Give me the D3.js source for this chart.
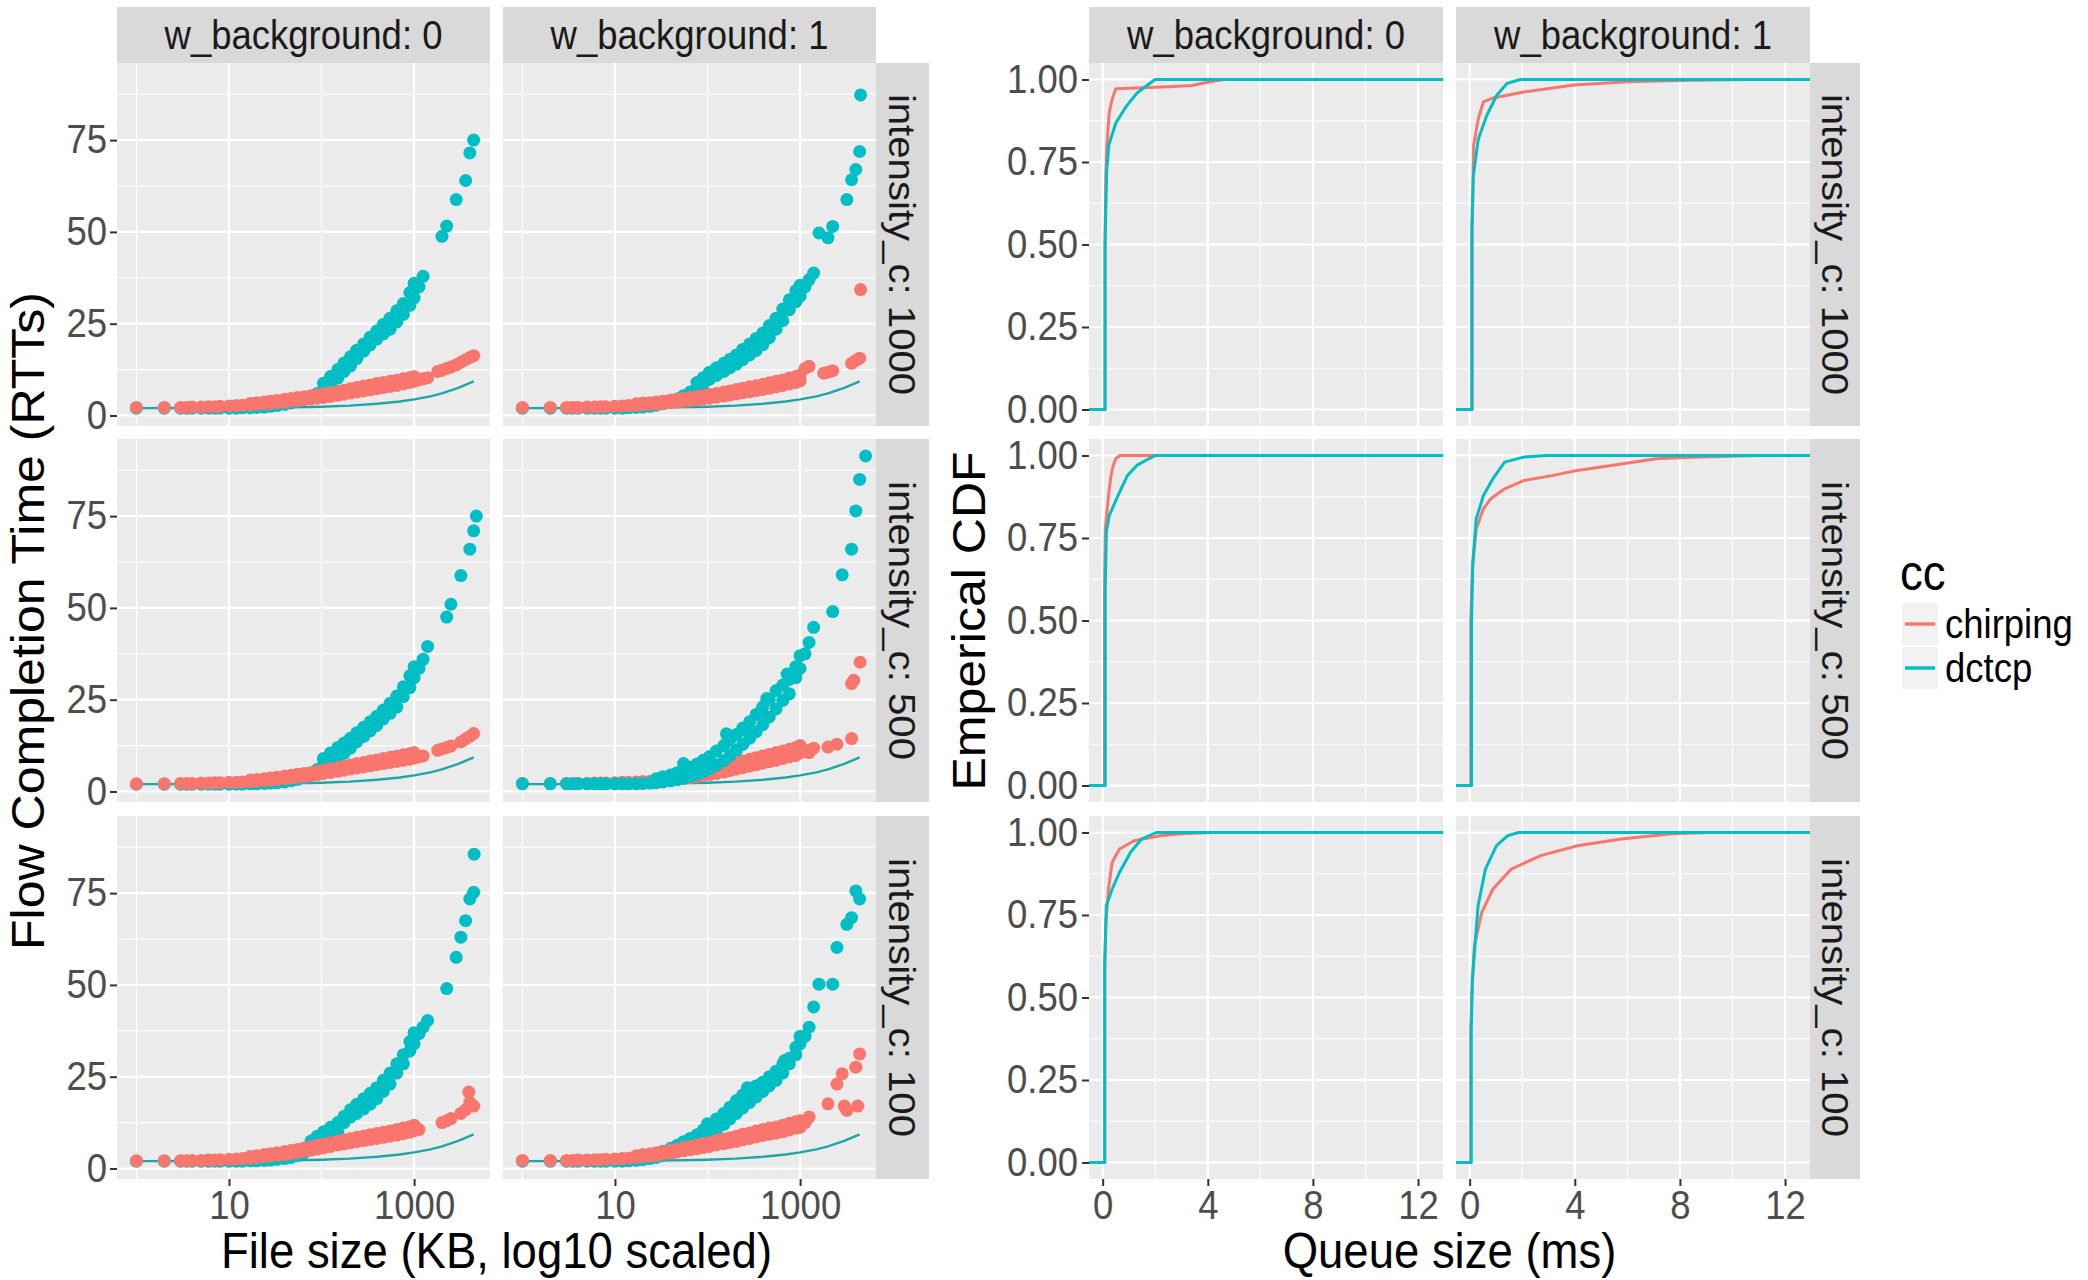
<!DOCTYPE html>
<html>
<head>
<meta charset="utf-8">
<script src="https://cdn.jsdelivr.net/npm/d3@7"></script>
<style>
    body { margin: 0; background: #fff; }
    text { font-family: "Liberation Sans", Arial, sans-serif; }
</style>
</head>
<body>
<script>
"use strict";

// ---- categories and ticks ----
var backgrounds = ["0", "1"];
var intensities = ["1000", "500", "100"];
var ccNames = ["chirping", "dctcp"];

var fctTicks = [0, 25, 50, 75];
var fctMinorTicks = [12.5, 37.5, 62.5, 87.5];
var sizeTicks = [10, 1000];
var sizeMinorTicks = [1, 100];
var queueTicks = [0, 4, 8, 12];
var queueMinorTicks = [2, 6, 10];
var cdfTicks = [0, 0.25, 0.5, 0.75, 1];
var cdfMinorTicks = [0.125, 0.375, 0.625, 0.875];

// ---- flow completion time (RTTs) per file size (KB) ----
var fileSizesKB = [1, 2, 3, 3.5, 4, 5, 6, 7, 8, 10,
    12, 14, 17, 20, 24, 28, 33, 40, 47, 55,
    65, 77, 90, 105, 125, 150, 175, 205, 240, 285,
    335, 395, 465, 550, 650, 765, 900, 1000, 1130, 1250,
    1400, 1600, 1800, 2000, 2250, 2500, 2850, 3200, 3600, 4000,
    4400];

var chirping1000bg0 = [2.2, 2.2, 2.2, 2.2, 2.3, 2.3, 2.4, 2.4, 2.5, 2.6,
    2.7, 2.8, 2.9, 3.0, 3.2, 3.3, 3.5, 3.7, 3.9, 4.1,
    4.3, 4.5, 4.7, 4.9, 5.2, 5.5, 5.8, 6.1, 6.4, 6.7,
    7.0, 7.3, 7.6, 7.9, 8.2, 8.6, 9.0, 9.3, 9.7, 10.0,
    10.3, null, 12.0, 12.3, 12.8, 13.2, 13.8, 14.5, 15.2, 15.8,
    16.3];
var dctcp1000bg0 = [2.0, 2.0, 2.0, 2.0, 2.0, 2.0, 2.0, 2.0, 2.0, 2.0,
    2.0, 2.1, 2.1, 2.2, 2.3, 2.5, 2.7, 3.0, 3.4, 3.9,
    4.5, 5.2, 6.0, 7.0, 8.5, 10.2, 12.0, 13.5, 15.5, 17.5,
    19.2, 20.8, 22.2, 23.5, 25.5, 27.5, 30.0, 32.0, 35.0, 37.9,
    null, null, null, 48.8, 51.6, null, 58.8, null, 64.0, 71.5,
    75.0];
var chirping1000bg1 = [2.2, 2.2, 2.2, 2.2, 2.2, 2.3, 2.3, 2.4, 2.4, 2.5,
    2.6, 2.7, 2.8, 2.9, 3.0, 3.1, 3.3, 3.5, 3.7, 3.9,
    4.1, 4.3, 4.5, 4.7, 5.0, 5.3, 5.6, 5.9, 6.2, 6.5,
    6.8, 7.1, 7.4, 7.8, 8.2, 8.6, 9.0, 9.4, 12.8, 13.4,
    null, null, 11.5, 11.8, 12.2, null, null, null, 14.2, 15.0,
    15.6];
var dctcp1000bg1 = [2.0, 2.0, 2.0, 2.0, 2.0, 2.0, 2.0, 2.0, 2.0, 2.0,
    2.0, 2.1, 2.2, 2.3, 2.5, 2.8, 3.2, 3.8, 4.5, 5.4,
    6.4, 7.4, 8.6, 9.9, 10.9, 12.0, 13.0, 14.0, 15.2, 16.5,
    17.7, 19.3, 21.2, 23.5, 25.8, 28.8, 31.0, 32.5, 35.0, 37.0,
    38.8, 49.7, null, 48.4, 51.5, null, null, 58.8, 64.2, 67.0,
    71.9];
var chirping500bg0 = [2.1, 2.1, 2.2, 2.2, 2.2, 2.3, 2.3, 2.4, 2.4, 2.5,
    2.5, 2.6, 2.7, 2.8, 3.0, 3.1, 3.3, 3.5, 3.7, 3.9,
    4.1, 4.3, 4.6, 4.9, 5.2, 5.5, 5.8, 6.1, 6.4, 6.7,
    7.0, 7.3, 7.6, 7.9, 8.2, 8.5, 8.8, 9.1, 9.4, 9.7,
    null, null, 11.2, 11.6, 12.0, 12.4, null, 13.5, 14.3, 15.0,
    15.8];
var dctcp500bg0 = [2.0, 2.0, 2.0, 2.0, 2.0, 2.0, 2.0, 2.0, 2.0, 2.0,
    2.0, 2.0, 2.1, 2.1, 2.2, 2.3, 2.4, 2.6, 2.9, 3.3,
    3.8, 4.5, 6.0, 7.5, 8.5, 9.5, 10.4, 11.8, 13.5, 15.0,
    16.5, 18.0, 19.8, 21.3, 23.0, 25.8, 28.3, 31.0, 33.5, 36.0,
    39.5, null, null, null, 47.5, 51.0, null, 58.8, null, 66.0,
    71.0];
var chirping500bg1 = [2.2, 2.2, 2.2, 2.2, 2.2, 2.2, 2.3, 2.3, 2.3, 2.4,
    2.5, 2.5, 2.6, 2.7, 2.8, 2.9, 3.0, 3.2, 3.4, 3.6,
    3.8, 4.1, 4.4, 4.6, 4.9, 5.3, 5.7, 6.1, 6.5, 6.9,
    7.3, 7.7, 8.1, 8.5, 9.0, 9.4, 9.8, 10.5, 11.2, 10.6,
    11.8, null, null, 12.1, null, 12.9, null, null, 14.4, null,
    null];
var dctcp500bg1 = [2.1, 2.1, 2.1, 2.1, 2.1, 2.1, 2.1, 2.1, 2.1, 2.1,
    2.1, 2.1, 2.1, 2.2, 2.3, 2.4, 2.6, 2.9, 3.2, 3.6,
    4.1, 4.7, 5.4, 6.2, 7.2, 8.4, 9.8, 11.2, 12.8, 14.5,
    16.3, 18.2, 20.3, 22.5, 24.8, 26.6, 31.0, 33.5, 37.5, 40.6,
    44.7, null, null, null, 49.0, null, 59.0, null, 66.0, 76.4,
    85.0];
var chirping100bg0 = [2.1, 2.1, 2.1, 2.1, 2.2, 2.2, 2.3, 2.3, 2.4, 2.5,
    2.6, 2.7, 2.8, 3.0, 3.2, 3.4, 3.6, 3.8, 4.1, 4.4,
    4.7, 5.0, 5.3, 5.6, 6.0, 6.4, 6.7, 7.0, 7.3, 7.6,
    7.9, 8.2, 8.5, 8.8, 9.1, 9.5, 9.9, 10.3, 10.6, null,
    null, null, null, 12.5, 13.0, 13.6, null, 15.0, 16.0, 18.0,
    17.0];
var dctcp100bg0 = [2.0, 2.0, 2.0, 2.0, 2.0, 2.0, 2.0, 2.0, 2.0, 2.0,
    2.0, 2.0, 2.1, 2.1, 2.2, 2.3, 2.5, 2.7, 3.0, 3.5,
    4.3, 5.5, 7.0, 8.0, 9.0, 10.0, 12.5, 14.0, 15.0, 16.2,
    17.5, 19.0, 21.0, 23.0, 26.0, 28.5, 32.0, 34.0, 36.7, 38.5,
    40.3, null, null, null, 49.0, null, 57.5, 63.0, 67.5, 73.4,
    75.2];
var chirping100bg1 = [2.2, 2.2, 2.2, 2.2, 2.3, 2.3, 2.4, 2.4, 2.5, 2.6,
    2.7, 2.8, 3.0, 3.2, 3.4, 3.6, 3.9, 4.2, 4.5, 4.8,
    5.1, 5.4, 5.7, 6.0, 6.4, 6.8, 7.1, 7.4, 7.8, 8.2,
    8.6, 9.0, 9.3, 9.6, 10.0, 10.5, 11.0, 11.2, 12.5, 14.0,
    null, null, null, 17.6, null, 23.0, 25.8, 15.8, null, 27.6,
    31.2];
var dctcp100bg1 = [2.0, 2.0, 2.0, 2.0, 2.0, 2.0, 2.0, 2.0, 2.0, 2.0,
    2.0, 2.1, 2.2, 2.4, 2.7, 3.0, 3.5, 4.0, 4.6, 5.3,
    6.0, 6.8, 7.8, 9.0, 10.5, 12.0, 13.5, 15.0, 16.5, 18.0,
    19.5, 21.0, 22.5, 24.0, 26.0, 28.5, 31.0, 34.0, 36.0, 38.5,
    44.0, 50.2, null, null, 50.2, 60.2, null, 66.5, 68.3, 75.6,
    73.4];

// upper edge of the thick part of each band (same flows, slower runs)
var spreadSizesKB = [17, 20, 24, 28, 33, 40, 47, 55, 65, 77,
    90, 105, 125, 150, 175, 205, 240, 285, 335, 395,
    465, 550, 650, 765, 900, 1000];
var spreadChirping1000bg0 = [3.3, 3.5, 3.7, 3.9, 4.1, 4.4, 4.6, 4.9, 5.1, 5.4,
    5.6, 5.9, 6.2, 6.6, 6.9, 7.3, 7.6, 8.0, 8.3, 8.7,
    9.0, 9.3, 9.6, 10.0, 10.3, 10.6];
var spreadDctcp1000bg0 = [null, null, null, null, null, null, null, null, null, null,
    null, 8.8, 10.6, 12.5, 14.3, 16.0, 17.8, 19.5, 21.3, 23.0,
    24.8, 26.5, 28.5, 30.5, 33.5, 36.0];
var spreadChirping1000bg1 = [3.2, 3.4, 3.5, 3.7, 3.9, 4.2, 4.4, 4.7, 4.9, 5.2,
    5.4, 5.7, 6.0, 6.4, 6.7, 7.1, 7.4, 7.8, 8.1, 8.5,
    8.9, 9.3, 9.7, 10.2, 10.6, 11.0];
var spreadDctcp1000bg1 = [null, null, null, null, null, null, null, null, null, 9.0,
    10.3, 11.8, 13.0, 14.2, 15.3, 16.5, 18.0, 19.5, 21.0, 22.5,
    24.5, 26.5, 29.0, 31.5, 34.0, 35.5];
var spreadChirping500bg0 = [3.1, 3.3, 3.5, 3.7, 3.9, 4.2, 4.4, 4.7, 4.9, 5.2,
    5.5, 5.8, 6.2, 6.5, 6.9, 7.2, 7.6, 7.9, 8.3, 8.6,
    9.0, 9.3, 9.6, 10.0, 10.3, 10.6];
var spreadDctcp500bg0 = [null, null, null, null, null, null, null, null, null, null,
    null, 9.0, 10.5, 12.0, 13.2, 14.5, 16.0, 17.5, 19.0, 20.5,
    22.2, 24.0, 26.0, 28.5, 31.5, 34.0];
var spreadChirping500bg1 = [null, null, null, null, null, null, null, null, null, null,
    null, 5.8, 6.3, 6.8, 7.3, 7.8, 8.3, 8.8, 9.2, 9.7,
    10.1, 10.6, 11.0, 11.5, 12.0, 12.5];
var spreadDctcp500bg1 = [null, null, null, 3.5, 4.0, 4.5, 5.1, 5.8, 6.6, 7.5,
    8.5, 9.5, 11.0, 12.5, 14.0, 15.5, 17.3, 19.0, 21.0, 23.0,
    25.0, 27.5, 29.0, 30.5, 34.0, 37.0];
var spreadChirping100bg0 = [3.3, 3.5, 3.8, 4.0, 4.3, 4.6, 4.9, 5.2, 5.6, 5.9,
    6.3, 6.6, 7.0, 7.4, 7.8, 8.1, 8.5, 8.8, 9.2, 9.5,
    9.9, 10.2, 10.6, 11.0, 11.4, 11.8];
var spreadDctcp100bg0 = [null, null, null, null, null, null, null, null, null, 7.5,
    8.8, 10.0, 11.2, 12.5, 14.2, 16.0, 17.5, 19.0, 20.5, 22.0,
    24.0, 26.0, 28.5, 31.0, 34.5, 37.0];
var spreadChirping100bg1 = [3.5, 3.8, 4.0, 4.3, 4.6, 5.0, 5.3, 5.7, 6.0, 6.4,
    6.8, 7.1, 7.6, 8.0, 8.4, 8.8, 9.3, 9.7, 10.2, 10.6,
    11.0, 11.3, 11.8, 12.3, 12.7, 13.0];
var spreadDctcp100bg1 = [null, 3.0, 3.5, 4.0, 4.7, 5.5, 6.3, 7.3, 8.2, 9.2,
    10.5, 12.0, 13.5, 15.0, 16.7, 18.5, 20.0, 21.5, 22.5, 23.5,
    25.0, 26.5, 28.5, 30.0, 33.0, 36.0];

// scattered flows off the main band: [intensity, background, cc, size KB, FCT]
var extraPoints = [
    ["1000", "0", "dctcp", 210, 14.4],
    ["1000", "1", "dctcp", 4500, 87.3],
    ["1000", "1", "chirping", 4500, 34.3],
    ["500", "0", "dctcp", 4700, 75.0],
    ["500", "1", "dctcp", 55, 7.6],
    ["500", "1", "dctcp", 160, 15.7],
    ["500", "1", "dctcp", 263, 16.6],
    ["500", "1", "dctcp", 372, 21.6],
    ["500", "1", "dctcp", 436, 25.3],
    ["500", "1", "dctcp", 724, 32.0],
    ["500", "1", "dctcp", 5100, 91.4],
    ["500", "1", "chirping", 3600, 29.4],
    ["500", "1", "chirping", 3800, 30.3],
    ["500", "1", "chirping", 4450, 35.2],
    ["100", "0", "dctcp", 4450, 85.6],
    ["100", "0", "chirping", 3900, 20.8],
    ["100", "1", "dctcp", 100, 12.2],
    ["100", "1", "dctcp", 270, 22.0],
    ["100", "1", "dctcp", 680, 29.4],
    ["100", "1", "chirping", 3000, 17.0],
    ["100", "1", "chirping", 4200, 17.0]
];

// panels where the dctcp points were plotted last
var dctcpOnTop = [["500", "1"]];

// reference curve drawn in every FCT panel
var idealSizesKB = [1, 10, 30, 100, 200, 400, 700, 1000, 1500, 2000, 3000, 4400];
var idealFct = [2.0, 2.05, 2.15, 2.4, 2.7, 3.2, 3.8, 4.4, 5.2, 6.0, 7.5, 9.3];

// ---- empirical CDF of queue size (ms): [ms, cdf] ----
var cdfChirping1000bg0 = [[0.09, 0], [0.09, 0.5], [0.12, 0.7], [0.16, 0.8], [0.25, 0.9], [0.36, 0.94],
    [0.5, 0.972], [1.5, 0.975], [2.5, 0.978], [3.4, 0.982], [3.9, 0.99], [4.6, 1]];
var cdfDctcp1000bg0 = [[0.09, 0], [0.09, 0.5], [0.15, 0.72], [0.23, 0.8], [0.5, 0.868], [0.91, 0.92],
    [1.32, 0.96], [1.73, 0.985], [2.0, 1]];
var cdfChirping1000bg1 = [[0.1, 0], [0.1, 0.55], [0.15, 0.8], [0.33, 0.881], [0.52, 0.932], [0.9, 0.944],
    [2.05, 0.962], [3.96, 0.983], [6.0, 0.993], [8.0, 0.997], [10.5, 1]];
var cdfDctcp1000bg1 = [[0.08, 0], [0.08, 0.55], [0.14, 0.708], [0.33, 0.82], [0.65, 0.891], [1.03, 0.952],
    [1.42, 0.988], [1.92, 1]];
var cdfChirping500bg0 = [[0.07, 0], [0.07, 0.6], [0.1, 0.777], [0.22, 0.878], [0.32, 0.94], [0.4, 0.97],
    [0.5, 0.99], [0.66, 1]];
var cdfDctcp500bg0 = [[0.1, 0], [0.1, 0.6], [0.14, 0.768], [0.25, 0.818], [0.58, 0.878], [0.94, 0.939],
    [1.3, 0.97], [1.75, 0.99], [2.0, 1]];
var cdfChirping500bg1 = [[0.04, 0], [0.04, 0.5], [0.1, 0.655], [0.25, 0.777], [0.52, 0.838], [0.79, 0.868],
    [1.33, 0.899], [2.05, 0.924], [3.13, 0.939], [4.03, 0.954], [5.84, 0.975], [7.1, 0.99], [8.5, 0.995], [11.0, 1]];
var cdfDctcp500bg1 = [[0.07, 0], [0.07, 0.5], [0.12, 0.676], [0.25, 0.808], [0.52, 0.878], [0.88, 0.929],
    [1.33, 0.98], [2.05, 0.995], [2.9, 1]];
var cdfChirping100bg0 = [[0.08, 0], [0.08, 0.6], [0.12, 0.727], [0.22, 0.828], [0.36, 0.91], [0.64, 0.95],
    [1.2, 0.975], [2.18, 0.99], [3.0, 0.996], [4.1, 1]];
var cdfDctcp100bg0 = [[0.08, 0], [0.08, 0.6], [0.14, 0.778], [0.36, 0.828], [0.64, 0.879], [1.06, 0.94],
    [1.48, 0.98], [2.04, 1]];
var cdfChirping100bg1 = [[0.04, 0], [0.04, 0.4], [0.08, 0.504], [0.18, 0.656], [0.46, 0.758], [0.88, 0.828],
    [1.58, 0.889], [2.7, 0.93], [4.1, 0.96], [5.77, 0.98], [7.7, 0.996], [9.1, 1]];
var cdfDctcp100bg1 = [[0.06, 0], [0.06, 0.4], [0.1, 0.555], [0.32, 0.778], [0.6, 0.889], [1.02, 0.96],
    [1.44, 0.99], [1.86, 1]];

// lookup tables built from the arrays above
var fctTable = {
    chirping: {"1000": [chirping1000bg0, chirping1000bg1], "500": [chirping500bg0, chirping500bg1],
               "100": [chirping100bg0, chirping100bg1]},
    dctcp: {"1000": [dctcp1000bg0, dctcp1000bg1], "500": [dctcp500bg0, dctcp500bg1],
            "100": [dctcp100bg0, dctcp100bg1]}
};
var spreadTable = {
    chirping: {"1000": [spreadChirping1000bg0, spreadChirping1000bg1],
               "500": [spreadChirping500bg0, spreadChirping500bg1],
               "100": [spreadChirping100bg0, spreadChirping100bg1]},
    dctcp: {"1000": [spreadDctcp1000bg0, spreadDctcp1000bg1],
            "500": [spreadDctcp500bg0, spreadDctcp500bg1],
            "100": [spreadDctcp100bg0, spreadDctcp100bg1]}
};
var cdfTable = {
    chirping: {"1000": [cdfChirping1000bg0, cdfChirping1000bg1], "500": [cdfChirping500bg0, cdfChirping500bg1],
               "100": [cdfChirping100bg0, cdfChirping100bg1]},
    dctcp: {"1000": [cdfDctcp1000bg0, cdfDctcp1000bg1], "500": [cdfDctcp500bg0, cdfDctcp500bg1],
            "100": [cdfDctcp100bg0, cdfDctcp100bg1]}
};

// ---- look ----
var colors = {chirping: "#F8766D", dctcp: "#00BFC4"},
    idealColor = "#1FA5A8",
    panelFill = "#EBEBEB",
    stripFill = "#D9D9D9",
    smallFont = 36.5,
    bigFont = 45.5;

// ---- layout ----
var rowTop = [63, 439, 816],
    panelH = 363,
    stripTop = 7,
    fctLeft = [117, 503], fctW = 373, fctStripW = 53,
    cdfLeft = [1089, 1456], cdfW = 354, cdfStripW = 50;

var svg = d3.select("body").append("svg")
    .attr("width", 2088)
    .attr("height", 1280)
    .style("background", "#fff");

var xSize = d3.scaleLog().domain([0.617, 6607]).range([0, fctW]),
    yFct = d3.scaleLinear().domain([-2.86, 96.0]).range([panelH, 0]),
    xQueue = d3.scaleLinear().domain([-0.52, 12.95]).range([0, cdfW]),
    yCdf = d3.scaleLinear().domain([-0.05, 1.05]).range([panelH, 0]);

// Text in the picture is a little taller than wide, so stretch it vertically.
function label(parent, x, y, str, size, fill, anchor, rotate) {
    var tf = "translate(" + x + "," + y + ") scale(1,1.1)";
    if (rotate) { tf += " rotate(" + rotate + ")"; }
    return parent.append("text")
        .attr("transform", tf)
        .attr("text-anchor", anchor || "middle")
        .attr("fill", fill)
        .style("font-size", size + "px")
        .text(str);
}

function panelBackground(g, w, xs, ys, xMajor, xMinor, yMajor, yMinor) {
    g.append("rect").attr("width", w).attr("height", panelH).attr("fill", panelFill);
    var grid = g.append("g").attr("stroke", "#fff");
    grid.selectAll(null).data(yMinor).enter().append("line")
        .attr("x1", 0).attr("x2", w)
        .attr("y1", function(d) { return ys(d); })
        .attr("y2", function(d) { return ys(d); })
        .attr("stroke-width", 1.1);
    grid.selectAll(null).data(xMinor).enter().append("line")
        .attr("y1", 0).attr("y2", panelH)
        .attr("x1", function(d) { return xs(d); })
        .attr("x2", function(d) { return xs(d); })
        .attr("stroke-width", 1.1);
    grid.selectAll(null).data(yMajor).enter().append("line")
        .attr("x1", 0).attr("x2", w)
        .attr("y1", function(d) { return ys(d); })
        .attr("y2", function(d) { return ys(d); })
        .attr("stroke-width", 2.2);
    grid.selectAll(null).data(xMajor).enter().append("line")
        .attr("y1", 0).attr("y2", panelH)
        .attr("x1", function(d) { return xs(d); })
        .attr("x2", function(d) { return xs(d); })
        .attr("stroke-width", 2.2);
}

function clipTo(g, id, w) {
    g.append("clipPath").attr("id", id)
        .append("rect").attr("width", w).attr("height", panelH);
    return g.append("g").attr("clip-path", "url(#" + id + ")");
}

function styleAxis(sel) {
    sel.select(".domain").remove();
    sel.selectAll(".tick line").attr("stroke", "#333333").attr("stroke-width", 2);
    sel.selectAll(".tick text")
        .attr("fill", "#4D4D4D")
        .attr("transform", "scale(1,1.1)")
        .style("font-size", smallFont + "px");
}

function topStrip(x, w, str) {
    svg.append("rect").attr("x", x).attr("y", stripTop)
        .attr("width", w).attr("height", rowTop[0] - stripTop).attr("fill", stripFill);
    label(svg, x + w / 2, (stripTop + rowTop[0]) / 2, str, smallFont, "#1A1A1A")
        .attr("dy", "0.36em");
}

function sideStrip(x, w, y, str) {
    svg.append("rect").attr("x", x).attr("y", y)
        .attr("width", w).attr("height", panelH).attr("fill", stripFill);
    label(svg, x + w / 2, y + panelH / 2, str, smallFont, "#1A1A1A", "middle", 90)
        .attr("dy", "0.36em");
}

function scatterPoints(cc, inten, bgIndex) {
    var values = fctTable[cc][inten][bgIndex],
        spread = spreadTable[cc][inten][bgIndex];
    var pts = spreadSizesKB.map(function(s, i) { return [s, spread[i]]; })
        .concat(fileSizesKB.map(function(s, i) { return [s, values[i]]; }))
        .filter(function(d) { return d[1] !== null; });
    extraPoints.forEach(function(e) {
        if (e[0] === inten && e[1] === backgrounds[bgIndex] && e[2] === cc) {
            pts.push([e[3], e[4]]);
        }
    });
    return pts;
}

var idealLine = d3.line()
    .x(function(d) { return xSize(d[0]); })
    .y(function(d) { return yFct(d[1]); });

var cdfLine = d3.line()
    .x(function(d) { return xQueue(d[0]); })
    .y(function(d) { return yCdf(d[1]); });

// ---- left block: flow completion time ----
intensities.forEach(function(inten, r) {
    backgrounds.forEach(function(bg, c) {
        var g = svg.append("g")
            .attr("transform", "translate(" + fctLeft[c] + "," + rowTop[r] + ")");
        panelBackground(g, fctW, xSize, yFct, sizeTicks, sizeMinorTicks, fctTicks, fctMinorTicks);
        var plot = clipTo(g, "clip-fct-" + r + c, fctW);

        plot.append("path")
            .datum(d3.zip(idealSizesKB, idealFct))
            .attr("d", idealLine)
            .attr("fill", "none")
            .attr("stroke", idealColor)
            .attr("stroke-width", 2.4);

        var onTop = dctcpOnTop.some(function(p) { return p[0] === inten && p[1] === bg; });
        var order = onTop ? ["chirping", "dctcp"] : ["dctcp", "chirping"];
        order.forEach(function(cc) {
            plot.append("g").selectAll("circle")
                .data(scatterPoints(cc, inten, c))
                .enter().append("circle")
                .attr("cx", function(d) { return xSize(d[0]); })
                .attr("cy", function(d) { return yFct(d[1]); })
                .attr("r", 6.5)
                .attr("fill", colors[cc]);
        });

        if (c === 0) {
            g.append("g")
                .call(d3.axisLeft(yFct).tickValues(fctTicks).tickSize(7).tickPadding(3))
                .call(styleAxis);
        }
        if (r === intensities.length - 1) {
            g.append("g")
                .attr("transform", "translate(0," + panelH + ")")
                .call(d3.axisBottom(xSize).tickValues(sizeTicks).tickFormat(d3.format("d"))
                    .tickSize(7).tickPadding(3))
                .call(styleAxis);
        }
    });
    sideStrip(fctLeft[1] + fctW, fctStripW, rowTop[r], "intensity_c: " + inten);
});
backgrounds.forEach(function(bg, c) {
    topStrip(fctLeft[c], fctW, "w_background: " + bg);
});

// ---- right block: empirical CDF of queue size ----
intensities.forEach(function(inten, r) {
    backgrounds.forEach(function(bg, c) {
        var g = svg.append("g")
            .attr("transform", "translate(" + cdfLeft[c] + "," + rowTop[r] + ")");
        panelBackground(g, cdfW, xQueue, yCdf, queueTicks, queueMinorTicks, cdfTicks, cdfMinorTicks);
        var plot = clipTo(g, "clip-cdf-" + r + c, cdfW);

        ccNames.forEach(function(cc) {
            // stat_ecdf pads the curve with 0 at -Inf and 1 at +Inf
            var pts = [[xQueue.domain()[0], 0]]
                .concat(cdfTable[cc][inten][c], [[xQueue.domain()[1], 1]]);
            plot.append("path")
                .datum(pts)
                .attr("d", cdfLine)
                .attr("fill", "none")
                .attr("stroke", colors[cc])
                .attr("stroke-width", 3)
                .attr("stroke-linejoin", "round");
        });

        if (c === 0) {
            g.append("g")
                .call(d3.axisLeft(yCdf).tickValues(cdfTicks).tickFormat(d3.format(".2f"))
                    .tickSize(7).tickPadding(4))
                .call(styleAxis);
        }
        if (r === intensities.length - 1) {
            g.append("g")
                .attr("transform", "translate(0," + panelH + ")")
                .call(d3.axisBottom(xQueue).tickValues(queueTicks).tickFormat(d3.format("d"))
                    .tickSize(7).tickPadding(3))
                .call(styleAxis);
        }
    });
    sideStrip(cdfLeft[1] + cdfW, cdfStripW, rowTop[r], "intensity_c: " + inten);
});
backgrounds.forEach(function(bg, c) {
    topStrip(cdfLeft[c], cdfW, "w_background: " + bg);
});

// ---- axis titles ----
var midY = (rowTop[0] + rowTop[2] + panelH) / 2;
label(svg, 44, midY, "Flow Completion Time (RTTs)", bigFont, "#000", "middle", -90);
label(svg, (fctLeft[0] + fctLeft[1] + fctW) / 2, 1268, "File size (KB, log10 scaled)", bigFont, "#000");
label(svg, 985, midY, "Emperical CDF", bigFont, "#000", "middle", -90);
label(svg, (cdfLeft[0] + cdfLeft[1] + cdfW) / 2, 1268, "Queue size (ms)", bigFont, "#000");

// ---- legend ----
var legend = svg.append("g").attr("transform", "translate(1900,0)");
label(legend, 0, 590, "cc", bigFont, "#000", "start");
ccNames.forEach(function(cc, i) {
    var top = 603 + i * 44;
    legend.append("rect")
        .attr("x", 2).attr("y", top)
        .attr("width", 36).attr("height", 42)
        .attr("fill", "#F2F2F2");
    legend.append("line")
        .attr("x1", 5).attr("x2", 35)
        .attr("y1", top + 21).attr("y2", top + 21)
        .attr("stroke", colors[cc])
        .attr("stroke-width", 3.5);
    label(legend, 45, top + 21, cc, smallFont, "#000", "start").attr("dy", "0.36em");
});
</script>
</body>
</html>
